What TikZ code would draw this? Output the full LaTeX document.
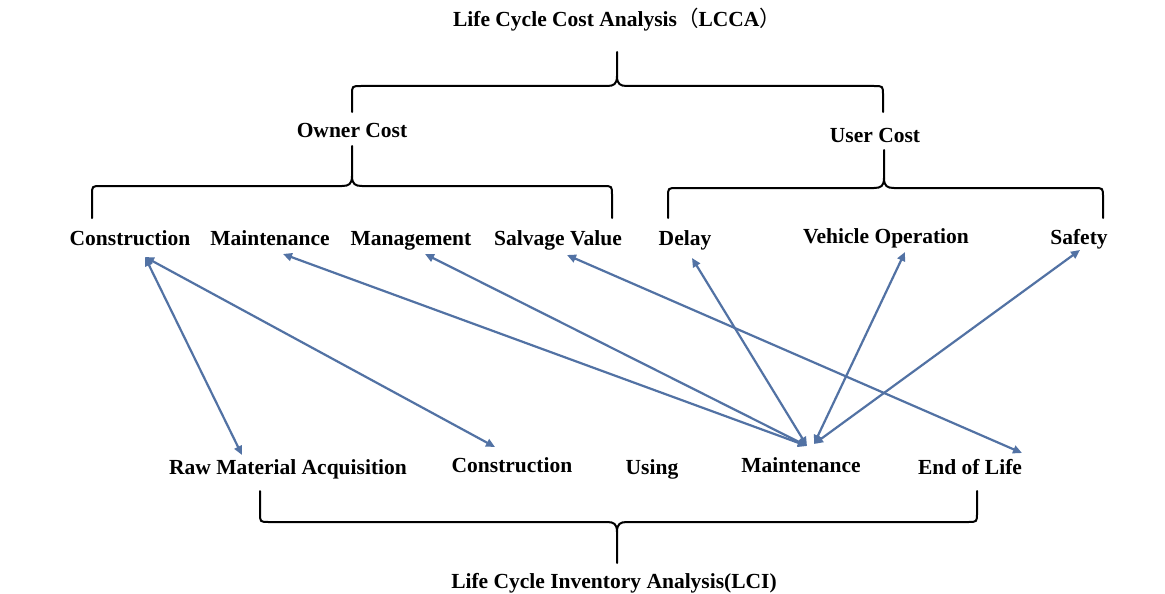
\documentclass[tikz,border=0pt]{standalone}
\usepackage{fontspec}
\setmainfont{Liberation Serif}
\newfontfamily\cjkfont{Noto Sans CJK SC}
\usetikzlibrary{arrows.meta}
\definecolor{linkblue}{HTML}{5272A4}
\begin{document}
\begin{tikzpicture}[x=1pt,y=-1pt,
 lbl/.style={font=\fontsize{21.5}{24}\selectfont\bfseries, inner sep=0pt, anchor=base},
 brace/.style={line width=2pt, black, line cap=round, line join=round},
 link/.style={line width=2.2pt, color=linkblue, {Triangle[length=9pt,width=8pt]}-{Triangle[length=9pt,width=8pt]}}]
\useasboundingbox[fill=white] (0,0) rectangle (1165,594);

% titles
\node[lbl] (lcca) at (617,27) {Life Cycle Cost Analysis{\cjkfont\mdseries （}LCCA{\cjkfont\mdseries ）}};
\node[lbl] (owner) at (352,137) {Owner Cost};
\node[lbl] (user) at (875,142) {User Cost};

% row 2
\node[lbl] (cC) at (130,245) {Construction};
\node[lbl] (cMaint) at (270,245) {Maintenance};
\node[lbl] (cMgmt) at (411,245) {Management};
\node[lbl] (cSalv) at (558,245) {Salvage Value};
\node[lbl] (cDelay) at (685,245) {Delay};
\node[lbl] (cVeh) at (886,243) {Vehicle Operation};
\node[lbl] (cSafe) at (1079,244) {Safety};

% row 3
\node[lbl] (rRaw) at (288,474) {Raw Material Acquisition};
\node[lbl] (rCon) at (512,472) {Construction};
\node[lbl] (rUse) at (652,474) {Using};
\node[lbl] (rMaint) at (801,472) {Maintenance};
\node[lbl] (rEnd) at (970,474) {End of Life};

\node[lbl] (lci) at (614,588) {Life Cycle Inventory Analysis(LCI)};

% braces
\draw[brace] (352,112) -- (352,95) .. controls (352,86) .. (361,86) -- (607,86) .. controls (614,86) and (617,84) .. (617,76) -- (617,52);
\draw[brace] (883,112) -- (883,95) .. controls (883,86) .. (874,86) -- (627,86) .. controls (620,86) and (617,84) .. (617,76);

\draw[brace] (92,218) -- (92,195) .. controls (92,186) .. (101,186) -- (342,186) .. controls (349,186) and (352,184) .. (352,176) -- (352,146);
\draw[brace] (612,218) -- (612,195) .. controls (612,186) .. (603,186) -- (362,186) .. controls (355,186) and (352,184) .. (352,176);

\draw[brace] (668,218) -- (668,197) .. controls (668,188) .. (677,188) -- (874,188) .. controls (881,188) and (884,186) .. (884,178) -- (884,150);
\draw[brace] (1103,218) -- (1103,197) .. controls (1103,188) .. (1094,188) -- (894,188) .. controls (887,188) and (884,186) .. (884,178);

\draw[brace] (260,491) -- (260,513) .. controls (260,522) .. (269,522) -- (607,522) .. controls (614,522) and (617,524) .. (617,532) -- (617,563);
\draw[brace] (977,491) -- (977,513) .. controls (977,522) .. (968,522) -- (627,522) .. controls (620,522) and (617,524) .. (617,532);

% connector end points
\coordinate (pC) at (145,257);
\coordinate (pMaint) at (283,254);
\coordinate (pMgmt) at (425,254);
\coordinate (pSalv) at (567,255);
\coordinate (pDelay) at (692,258);
\coordinate (pVeh) at (905,252);
\coordinate (pSafe) at (1080,250);
\coordinate (qRaw) at (242,455);
\coordinate (qCon) at (495,447);
\coordinate (hubL) at (807,446);
\coordinate (hubR) at (814,444);
\coordinate (qEnd) at (1022,453);

\draw[link] (pC) -- (qRaw);
\draw[link] (pC) -- (qCon);
\draw[link] (pMaint) -- (hubL);
\draw[link] (pMgmt) -- (hubL);
\draw[link] (pSalv) -- (qEnd);
\draw[link] (pDelay) -- (hubL);
\draw[link] (pVeh) -- (hubR);
\draw[link] (pSafe) -- (hubR);
\end{tikzpicture}
\end{document}
